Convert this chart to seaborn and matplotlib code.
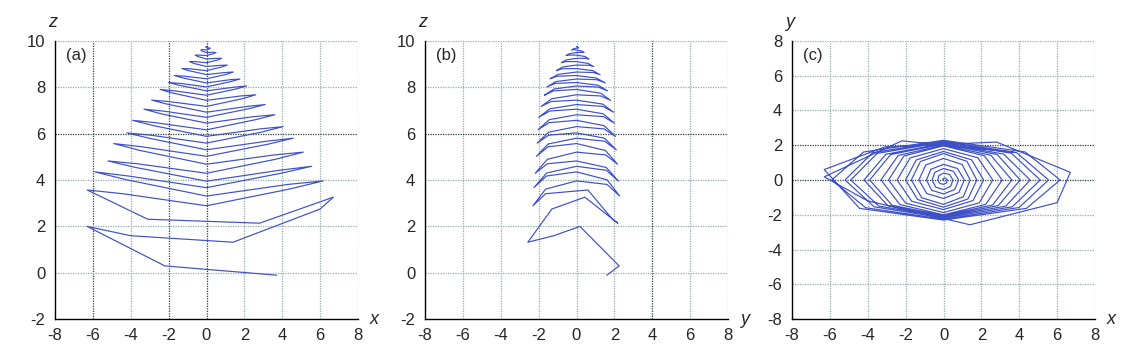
import matplotlib
matplotlib.use("Agg")
import matplotlib.pyplot as plt
import seaborn as sns
import pandas as pd
import numpy as np

# trajectory vertices (x, y, z), from the bottom end upward to the apex
x_vals = [3.7, -2.2, -6.3, -4.0, 1.4, 6.0, 6.7, 2.8, -3.1,
          -6.3, -4.43, 0, 4.38, 6.16, 4.31, 0, -4.22,
          -5.9, -4.11, 0, 3.99, 5.55, 3.86, 0, -3.74,
          -5.2, -3.66, 0, 3.63, 5.11, 3.58, 0, -3.5,
          -4.9, -3.41, 0, 3.29, 4.58, 3.17, 0, -3.04,
          -4.2, -2.94, 0, 2.89, 4.05, 2.84, 0, -2.79,
          -3.9, -2.71, 0, 2.6, 3.61, 2.5, 0, -2.39,
          -3.3, -2.3, 0, 2.23, 3.1, 2.16, 0, -2.09,
          -2.9, -2.0, 0, 1.89, 2.6, 1.81, 0, -1.76,
          -2.45, -1.68, 0, 1.56, 2.12, 1.48, 0, -1.44,
          -2.0, -1.37, 0, 1.29, 1.76, 1.24, 0, -1.22,
          -1.7, -1.15, 0, 1.05, 1.41, 0.98, 0, -0.94,
          -1.3, -0.88, 0, 0.81, 1.1, 0.74, 0, -0.67,
          -0.9, -0.62, 0, 0.59, 0.8, 0.53, 0, -0.46,
          -0.6, -0.41, 0, 0.37, 0.5, 0.32, 0, -0.25,
          -0.3, -0.2, 0, 0.16, 0.2, 0.11, 0, -0.04,
          0.0]
y_vals = [1.6, 2.25, 0.18, -1.2, -2.57, -1.3, 0.44, 2.18, 1.9,
          0.6, -1.63, -2.3, -1.63, 0, 1.61, 2.28, 1.61,
          0, -1.59, -2.25, -1.58, 0, 1.57, 2.22, 1.57,
          0, -1.54, -2.18, -1.54, 0, 1.54, 2.17, 1.53,
          0, -1.5, -2.12, -1.5, 0, 1.49, 2.1, 1.48,
          0, -1.47, -2.08, -1.47, 0, 1.46, 2.06, 1.46,
          0, -1.45, -2.04, -1.43, 0, 1.42, 2.0, 1.41,
          0, -1.41, -2.0, -1.4, 0, 1.39, 1.96, 1.38,
          0, -1.33, -1.87, -1.31, 0, 1.28, 1.8, 1.27,
          0, -1.22, -1.7, -1.18, 0, 1.16, 1.64, 1.15,
          0, -1.12, -1.56, -1.09, 0, 1.07, 1.52, 1.06,
          0, -1.02, -1.4, -0.96, 0, 0.89, 1.24, 0.86,
          0, -0.78, -1.06, -0.72, 0, 0.66, 0.9, 0.61,
          0, -0.59, -0.8, -0.55, 0, 0.5, 0.66, 0.44,
          0, -0.41, -0.55, -0.37, 0, 0.32, 0.4, 0.25,
          0, -0.2, -0.25, -0.16, 0, 0.11, 0.1, 0.04,
          0.0]
z_vals = [-0.1, 0.3, 2.0, 1.6, 1.32, 2.75, 3.26, 2.14, 2.31,
          3.57, 3.41, 2.89, 3.61, 3.96, 3.81, 3.31, 4.01,
          4.35, 4.17, 3.67, 4.30, 4.59, 4.42, 3.95, 4.54,
          4.82, 4.70, 4.29, 4.89, 5.20, 5.08, 4.68, 5.27,
          5.57, 5.43, 5.02, 5.55, 5.80, 5.67, 5.30, 5.80,
          6.03, 5.93, 5.59, 6.06, 6.30, 6.20, 5.88, 6.34,
          6.57, 6.47, 6.16, 6.60, 6.81, 6.73, 6.45, 6.85,
          7.05, 6.97, 6.70, 7.07, 7.25, 7.17, 6.92, 7.27,
          7.44, 7.38, 7.17, 7.50, 7.67, 7.62, 7.43, 7.74,
          7.9, 7.84, 7.65, 7.92, 8.05, 8.0, 7.84, 8.08,
          8.2, 8.16, 8.01, 8.24, 8.35, 8.32, 8.18, 8.39,
          8.5, 8.47, 8.36, 8.55, 8.65, 8.63, 8.54, 8.71,
          8.8, 8.79, 8.71, 8.87, 8.95, 8.94, 8.89, 9.02,
          9.1, 9.10, 9.05, 9.17, 9.24, 9.24, 9.21, 9.32,
          9.38, 9.38, 9.36, 9.44, 9.49, 9.50, 9.49, 9.56,
          9.6, 9.62, 9.60, 9.65, 9.68, 9.69, 9.70, 9.73,
          9.75]

x_ticks = [-8, -6, -4, -2, 0, 2, 4, 6, 8]
z_ticks = [-2, 0, 2, 4, 6, 8, 10]
y_ticks = [-8, -6, -4, -2, 0, 2, 4, 6, 8]
panel_tags = ["(a)", "(b)", "(c)"]

df = pd.DataFrame({"x": x_vals, "y": y_vals, "z": z_vals})

sns.set_style("white")
plt.rcParams["font.family"] = ["Liberation Sans", "DejaVu Sans"]
plt.rcParams["axes.unicode_minus"] = False

W, H = 1139, 362
fig = plt.figure(figsize=(W / 100, H / 100), dpi=100)

line_color = "#3d50c6"
grid_color = "#93aaa8"
dark_grid = "#2f3f3a"

specs = [
    dict(left=55, xcol="x", ycol="z", xt=x_ticks, yt=z_ticks, xl="x", yl="z",
         dark_v=[-6, -2, 0], dark_h=[6]),
    dict(left=425, xcol="y", ycol="z", xt=y_ticks, yt=z_ticks, xl="y", yl="z",
         dark_v=[4], dark_h=[6]),
    dict(left=792, xcol="x", ycol="y", xt=x_ticks, yt=y_ticks, xl="x", yl="y",
         dark_v=[], dark_h=[0, 2]),
]
top_px, bot_px, width_px = 40.7, 319.3, 303

for i, sp in enumerate(specs):
    ax = fig.add_axes([sp["left"] / W, (H - bot_px) / H, width_px / W, (bot_px - top_px) / H])
    ax.set_xlim(sp["xt"][0], sp["xt"][-1])
    ax.set_ylim(sp["yt"][0], sp["yt"][-1])
    for v in sp["xt"][1:]:
        dk = v in sp["dark_v"]
        ax.axvline(v, color=dark_grid if dk else grid_color, lw=0.9,
                   ls=(0, (1, 1)), zorder=0)
    for v in sp["yt"][1:]:
        dk = v in sp["dark_h"]
        ax.axhline(v, color=dark_grid if dk else grid_color, lw=0.9,
                   ls=(0, (1, 1)), zorder=0)
    sns.lineplot(data=df, x=sp["xcol"], y=sp["ycol"], sort=False, estimator=None,
                 color=line_color, lw=0.85, ax=ax, zorder=3)
    ax.set_xticks(sp["xt"])
    ax.set_yticks(sp["yt"])
    ax.set_xticklabels([str(t) for t in sp["xt"]], fontsize=12)
    ax.set_yticklabels([str(t) for t in sp["yt"]], fontsize=12)
    ax.tick_params(axis="x", length=0, pad=6)
    ax.tick_params(axis="y", length=0, pad=7)
    ax.set_xlabel("")
    ax.set_ylabel("")
    for s in ["top", "right"]:
        ax.spines[s].set_visible(False)
    for s in ["left", "bottom"]:
        ax.spines[s].set_color("black")
        ax.spines[s].set_linewidth(1.0)
    ax.text(0.035, 0.975, panel_tags[i], transform=ax.transAxes, fontsize=12,
            va="top", ha="left")
    ax.text(-0.008, 1.035, sp["yl"], transform=ax.transAxes, fontsize=13,
            style="italic", ha="center", va="bottom")
    ax.text(1.055, 0.0, sp["xl"], transform=ax.transAxes, fontsize=13,
            style="italic", ha="center", va="center")

fig.savefig("out.png", dpi=100)
